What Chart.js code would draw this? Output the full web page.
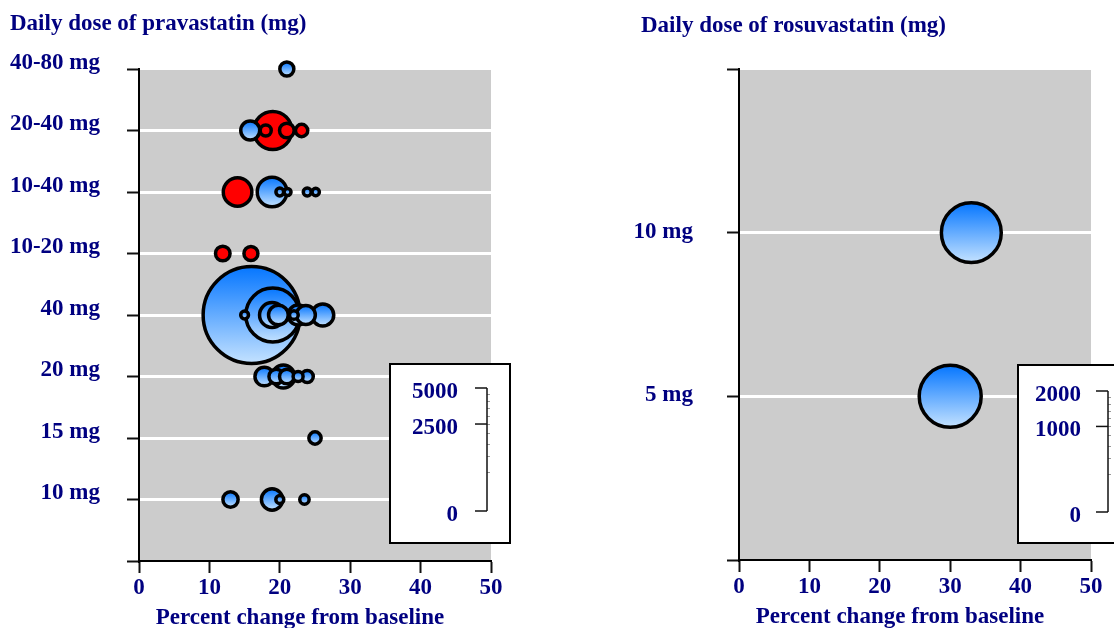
<!DOCTYPE html>
<html><head><meta charset="utf-8">
<script src="https://cdn.jsdelivr.net/npm/chart.js@4.4.1/dist/chart.umd.min.js"></script>
<style>
html,body{margin:0;padding:0;background:#fff;overflow:hidden;width:1114px;height:628px;}
canvas{position:absolute;top:0;}
#c1{left:0;} #c2{left:560px;}
</style></head><body>
<canvas id="c1" width="560" height="640"></canvas>
<canvas id="c2" width="554" height="640"></canvas>
<script>
// ---------------- DATA ----------------
const pravaTitle = "Daily dose of pravastatin (mg)";
const rosuTitle = "Daily dose of rosuvastatin (mg)";
const xAxisTitle = "Percent change from baseline";
const xTicks = [0, 10, 20, 30, 40, 50];

const pravaDoseLabels = ["10 mg", "15 mg", "20 mg", "40 mg", "10-20 mg", "10-40 mg", "20-40 mg", "40-80 mg"];
const pravaDose   = ["40 mg","40 mg","20-40 mg","10-40 mg","10-40 mg","40 mg","20 mg","40 mg","10 mg","40 mg","40 mg","20-40 mg","40 mg","20 mg","10 mg","20-40 mg","20 mg","20 mg","10-20 mg","10-20 mg","40-80 mg","20 mg","15 mg","20-40 mg","20-40 mg","20 mg","10 mg","40 mg","10-40 mg","10 mg","10-40 mg","40 mg","10-40 mg","10-40 mg"];
const pravaChange = [16, 19, 19, 18.9, 14, 18.9, 20.5, 26.1, 18.9, 22.6, 19.8, 15.8, 23.7, 17.8, 13, 21, 19.5, 21, 11.9, 15.9, 21, 23.9, 25, 23.1, 18, 22.6, 23.5, 22, 23.9, 20, 20, 15, 25.1, 21.1];
const pravaN      = [3110, 960, 480, 290, 270, 207, 175, 160, 150, 132, 128, 119, 119, 116, 77, 71, 71, 71, 70, 65, 65, 48, 50, 50, 40, 33, 29, 25, 21, 21, 20, 20, 18, 16];
const pravaRed    = [false,false,true,false,true,false,false,false,false,false,false,false,false,false,false,true,false,false,true,true,false,false,false,true,true,false,false,false,false,false,false,false,false,false];
const pravaKeyTicks = [0, 2500, 5000];

const rosuDoseLabels = ["5 mg", "10 mg"];
const rosuDose   = ["5 mg", "10 mg"];
const rosuChange = [30, 33];
const rosuN      = [525, 490];
const rosuRed    = [false, false];
const rosuKeyTicks = [0, 1000, 2000];

// ---------------- STYLE ----------------
const NAVY = '#000080';
const FONT = 'Liberation Serif';
Chart.defaults.font.family = FONT;
Chart.defaults.font.size = 23;
Chart.defaults.font.weight = 'bold';

const plotBg = {
  id: 'plotBg',
  beforeDraw(chart) {
    const a = chart.chartArea, c = chart.ctx;
    c.save(); c.fillStyle = '#cccccc';
    c.fillRect(a.left, a.top + 1, a.right - a.left, a.bottom - a.top - 1);
    c.restore();
  }
};

// panel title (top-left) and x axis title (below the axis)
const panelText = {
  id: 'panelText',
  afterDraw(chart, args, o) {
    const a = chart.chartArea, c = chart.ctx;
    c.save();
    c.fillStyle = NAVY; c.font = 'bold 23px "' + FONT + '"';
    c.textBaseline = 'alphabetic';
    c.textAlign = 'left';
    c.fillText(o.title, o.titleX, o.titleY);
    c.textAlign = 'center';
    c.fillText(o.xTitle, (a.left + a.right) / 2 + o.xTitleDx, a.bottom + o.xTitleDy);
    c.restore();
  }
};

const sizeKey = {
  id: 'sizeKey',
  afterDraw(chart, args, o) {
    const a = chart.chartArea, c = chart.ctx;
    const bx = a.right - o.boxFromRight, by = a.bottom - o.boxTopFromBottom;
    c.save();
    c.fillStyle = '#fff'; c.fillRect(bx, by, o.boxW, o.boxH);
    c.strokeStyle = '#000'; c.lineWidth = 2; c.strokeRect(bx, by, o.boxW, o.boxH);
    const zeroY = by + o.zeroFromTop, barX = bx + o.barDx;
    const maxV = o.ticks[o.ticks.length - 1];
    const yFor = v => zeroY - o.len * Math.sqrt(v / maxV);
    c.strokeStyle = '#999'; c.lineWidth = 1;
    for (let k = 1; k < 10; k++) {
      const y = Math.round(yFor(maxV * k / 10)) + 0.5;
      c.beginPath(); c.moveTo(barX, y); c.lineTo(barX + 3, y); c.stroke();
    }
    c.strokeStyle = '#111'; c.lineWidth = 1.5;
    c.beginPath(); c.moveTo(barX, zeroY); c.lineTo(barX, yFor(maxV)); c.stroke();
    c.fillStyle = NAVY; c.font = 'bold 23px "' + FONT + '"';
    c.textAlign = 'right'; c.textBaseline = 'middle';
    o.ticks.forEach(t => {
      const y = yFor(t);
      c.beginPath(); c.moveTo(barX - 12, y); c.lineTo(barX, y); c.stroke();
      c.fillText(String(t), bx + o.labelDx, y + 4);
    });
    c.restore();
  }
};

function bubbleFill(ctx) {
  const raw = ctx.raw;
  if (ctx.type !== 'data' || !raw) return '#1e88ff';
  if (raw.red) return '#ff0000';
  const chart = ctx.chart;
  const ys = chart.scales && chart.scales.y;
  const cy = ys ? ys.getPixelForValue(raw.y) : NaN;
  if (!isFinite(cy) || !isFinite(raw.r)) return '#5aa6ff';
  const g = chart.ctx.createLinearGradient(0, cy - raw.r, 0, cy + raw.r);
  g.addColorStop(0, '#0576ff');
  g.addColorStop(1, '#c4e2ff');
  return g;
}

function makeChart(id, p) {
  const radius = n => (p.key.len / 2) * Math.sqrt(n / p.key.ticks[p.key.ticks.length - 1]);
  const data = p.dose.map((d, i) => ({
    x: p.change[i],
    y: p.labels.indexOf(d) + 1,
    r: radius(p.n[i]),
    red: p.red[i]
  }));
  const yMax = p.yMax;
  return new Chart(document.getElementById(id), {
    type: 'bubble',
    data: { datasets: [{ data, backgroundColor: bubbleFill, borderColor: '#000', borderWidth: 3.5, clip: false }] },
    options: {
      responsive: false, animation: false, events: [], devicePixelRatio: 1,
      layout: { autoPadding: false, padding: { left: p.padLeft, right: p.padRight, top: p.padTop, bottom: 0 } },
      plugins: {
        legend: { display: false }, tooltip: { enabled: false }, title: { display: false },
        panelText: { title: p.title, titleX: p.titleX, titleY: p.titleY,
                     xTitle: xAxisTitle, xTitleDx: -15, xTitleDy: 63 },
        sizeKey: p.key
      },
      scales: {
        x: {
          type: 'linear', min: xTicks[0], max: xTicks[xTicks.length - 1],
          afterBuildTicks: s => { s.ticks = xTicks.map(v => ({ value: v })); },
          afterFit: s => { s.height = p.xHeight; s.paddingLeft = 0; s.paddingRight = 0; },
          grid: { drawOnChartArea: false, drawTicks: true, tickLength: 12, tickColor: '#111', tickWidth: 2 },
          border: { color: '#000', width: 2 },
          ticks: { color: NAVY, padding: 1, font: { size: 23, weight: 'bold' }, maxRotation: 0 }
        },
        y: {
          type: 'linear', min: 0, max: yMax,
          afterFit: s => { s.width = p.yWidth; s.paddingTop = 0; s.paddingBottom = 0; },
          grid: { color: c => (c.tick && c.tick.value > 0 && c.tick.value < yMax) ? '#ffffff' : 'rgba(0,0,0,0)',
                  lineWidth: 3, drawTicks: true, tickLength: 12, tickColor: '#111', tickWidth: 2 },
          border: { color: '#000', width: 2 },
          ticks: { stepSize: 1, autoSkip: false, color: NAVY, padding: p.yPad, labelOffset: p.labelOffset,
                   font: { size: 23, weight: 'bold' },
                   callback: v => p.labels[v - 1] || '' }
        }
      }
    },
    plugins: [plotBg, panelText, sizeKey]
  });
}

makeChart('c1', {
  title: pravaTitle, labels: pravaDoseLabels, dose: pravaDose, change: pravaChange, n: pravaN, red: pravaRed,
  yMax: 8, padLeft: 0, padRight: 69, padTop: 69, yWidth: 139, xHeight: 79, yPad: 27, labelOffset: -6,
  titleX: 10, titleY: 29.5,
  key: { ticks: pravaKeyTicks, len: 123, boxFromRight: 101, boxTopFromBottom: 197, boxW: 120, boxH: 179,
         zeroFromTop: 147, barDx: 97, labelDx: 68 }
});
makeChart('c2', {
  title: rosuTitle, labels: rosuDoseLabels, dose: rosuDose, change: rosuChange, n: rosuN, red: rosuRed,
  yMax: 3, padLeft: 0, padRight: 23, padTop: 69, yWidth: 179, xHeight: 80, yPad: 34, labelOffset: -1,
  titleX: 81, titleY: 31.5,
  key: { ticks: rosuKeyTicks, len: 121, boxFromRight: 73, boxTopFromBottom: 195, boxW: 120, boxH: 178,
         zeroFromTop: 147, barDx: 90, labelDx: 63 }
});
</script>
</body></html>
